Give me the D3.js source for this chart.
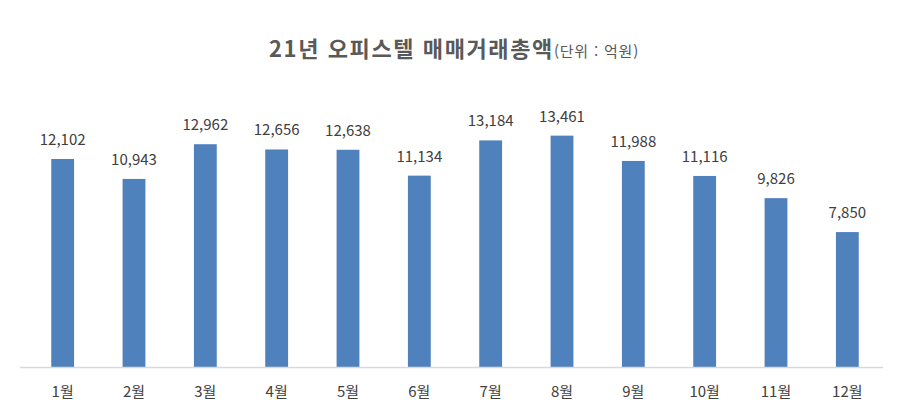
<!DOCTYPE html>
<html lang="ko">
<head>
    <meta charset="UTF-8">
    <title>21년 오피스텔 매매거래총액</title>
    <script src="https://cdn.jsdelivr.net/npm/d3@7/dist/d3.min.js"></script>
    <style>
        body { margin: 0; background: #fff; }
        text { font-family: "Noto Sans CJK KR", "Noto Sans", sans-serif; }
    </style>
</head>
<body>
<script>
    const width = 901, height = 420;

    // 데이터
    const months = ['1월', '2월', '3월', '4월', '5월', '6월', '7월', '8월', '9월', '10월', '11월', '12월'];
    const amounts = [12102, 10943, 12962, 12656, 12638, 11134, 13184, 13461, 11988, 11116, 9826, 7850];

    const svg = d3.select('body').append('svg')
        .attr('width', width)
        .attr('height', height);

    // 제목
    const title = svg.append('text')
        .attr('x', 454)
        .attr('y', 57)
        .attr('text-anchor', 'middle')
        .style('fill', '#595959');
    title.append('tspan')
        .style('font-size', '22px')
        .style('font-weight', 'bold')
        .style('letter-spacing', '1.6px')
        .text('21년 오피스텔 매매거래총액');
    title.append('tspan')
        .style('font-size', '15px')
        .style('letter-spacing', '0.8px')
        .text('(단위 : 억원)');

    const x = d3.scaleBand()
        .domain(months)
        .range([27, 883])
        .paddingInner(0.68)
        .paddingOuter(0.34);

    const y = d3.scaleLinear()
        .domain([0, 16000])
        .range([367, 92]);

    // 막대
    svg.append('g')
        .selectAll('rect')
        .data(amounts)
        .enter()
        .append('rect')
        .attr('x', (d, i) => x(months[i]))
        .attr('y', d => y(d))
        .attr('width', x.bandwidth())
        .attr('height', d => y(0) - y(d))
        .style('fill', '#4f81bd');

    // 값 라벨
    svg.append('g')
        .selectAll('text')
        .data(amounts)
        .enter()
        .append('text')
        .attr('x', (d, i) => x(months[i]) + x.bandwidth() / 2)
        .attr('y', d => y(d) - 14)
        .attr('text-anchor', 'middle')
        .style('font-size', '15px')
        .style('fill', '#404040')
        .text(d => d3.format(',')(d));

    // x축
    const xAxis = svg.append('g')
        .attr('transform', 'translate(0,' + y(0) + ')')
        .call(d3.axisBottom(x).tickSize(0).tickPadding(19));
    xAxis.select('.domain')
        .attr('d', 'M20,0.5H883')
        .style('stroke', '#d9d9d9')
        .style('stroke-width', 1.5);
    xAxis.selectAll('text')
        .style('font-size', '15px')
        .style('fill', '#404040')
        .style('font-family', '"Noto Sans CJK KR", sans-serif');
</script>
</body>
</html>
